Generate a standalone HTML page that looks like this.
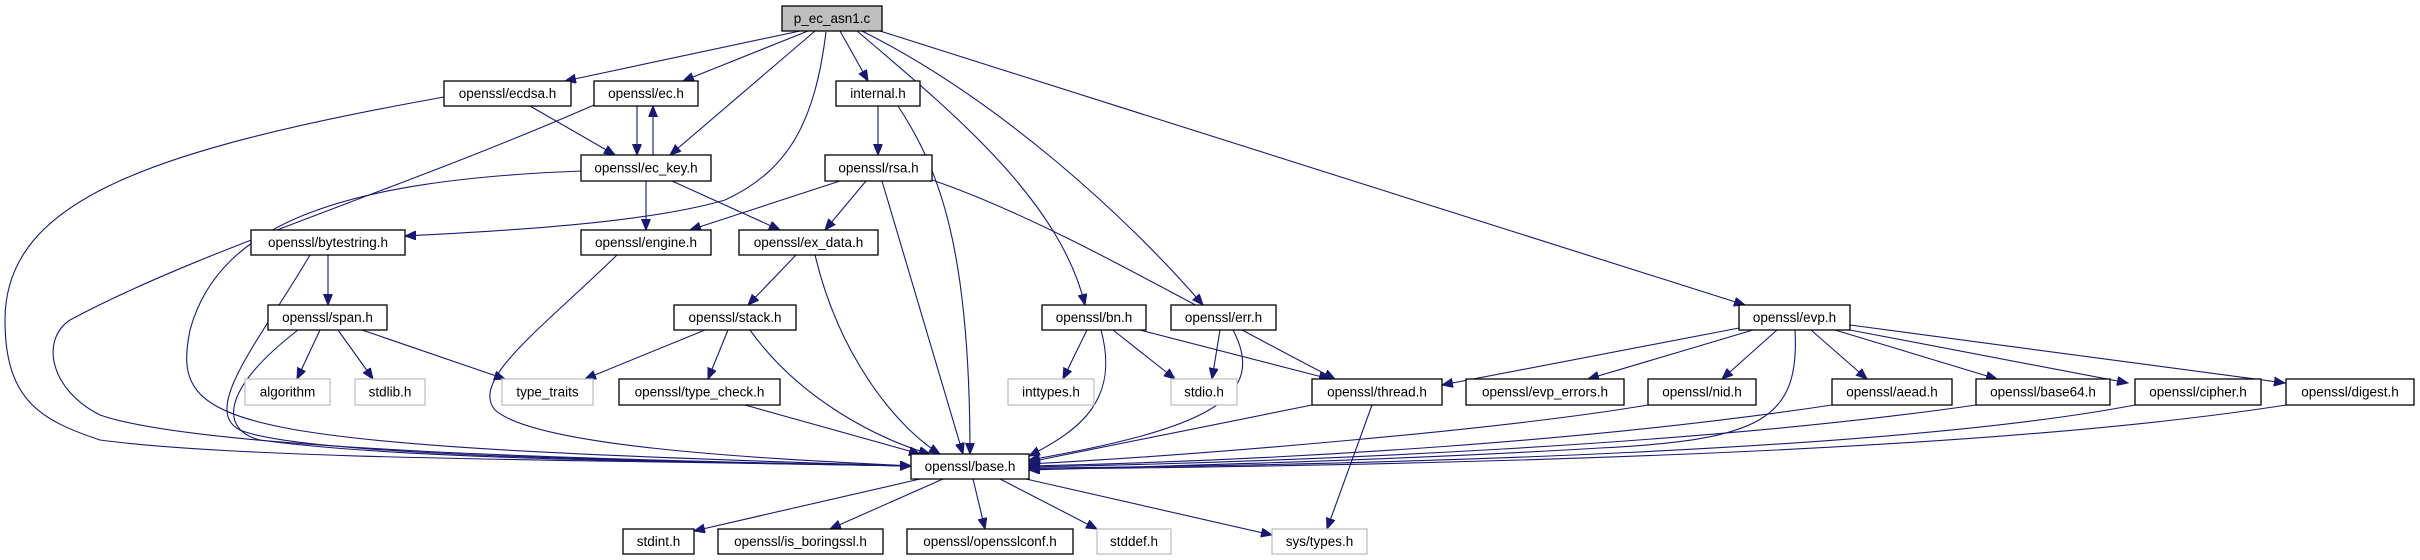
<!DOCTYPE html>
<html><head><meta charset="utf-8"><style>
html,body{margin:0;padding:0;background:#fff;}
svg{display:block}
text{font-family:"Liberation Sans","DejaVu Sans",sans-serif;font-size:13.5px;fill:#000;text-anchor:middle;dominant-baseline:central}
.n{fill:#fff;stroke:#000;stroke-width:1.3}
.g{fill:#fff;stroke:#bfbfbf;stroke-width:1.3}
.e{fill:none;stroke:#191970;stroke-width:1.1}
</style></head><body>
<svg width="2420" height="560" viewBox="0 0 2420 560" xmlns="http://www.w3.org/2000/svg">
<defs><marker id="a" markerUnits="userSpaceOnUse" markerWidth="12" markerHeight="10" refX="11" refY="4.5" orient="auto"><path d="M0,0 L11,4.5 L0,9 Z" fill="#191970" stroke="#191970"/></marker></defs>
<g class="e" marker-end="url(#a)">
<path d="M800,31 L565,81"/>
<path d="M808,31 L683,81"/>
<path d="M815,31 L670,155"/>
<path d="M826,32 C815,120 790,170 725,200 C640,225 480,232 405,236"/>
<path d="M840,31 L868,81"/>
<path d="M857,31 C950,110 1060,200 1085,305"/>
<path d="M862,31 C1000,100 1130,220 1203,305"/>
<path d="M880,31 L1745,305"/>
<path d="M444,97 C150,150 5,200 5,320 C5,400 40,420 100,440 C250,460 600,460 911,466"/>
<path d="M594,105 C400,190 200,250 70,320 C40,340 50,390 100,415 C200,450 600,460 911,466"/>
<path d="M637,106 L637,155"/>
<path d="M653,155 L653,106"/>
<path d="M530,106 L615,155"/>
<path d="M581,171 C350,180 220,220 190,330 C170,430 220,445 911,466"/>
<path d="M646,181 L646,230"/>
<path d="M672,181 L780,230"/>
<path d="M878,106 L878,155"/>
<path d="M898,106 C940,170 970,250 970,454"/>
<path d="M840,181 L690,230"/>
<path d="M866,181 L825,230"/>
<path d="M882,181 L963,454"/>
<path d="M932,180 C1050,220 1200,310 1335,379"/>
<path d="M310,255 C260,340 200,410 240,430 C300,455 600,460 911,466"/>
<path d="M328,255 L328,305"/>
<path d="M617,255 C540,330 470,380 495,410 C540,450 800,460 911,466"/>
<path d="M796,255 L748,305"/>
<path d="M815,255 C840,360 900,430 940,454"/>
<path d="M320,330 L297,379"/>
<path d="M338,330 L373,379"/>
<path d="M362,330 L505,379"/>
<path d="M298,330 C220,390 220,430 260,440 C400,460 700,462 911,466"/>
<path d="M705,330 L585,379"/>
<path d="M728,330 L708,379"/>
<path d="M750,330 C800,400 880,440 930,454"/>
<path d="M745,405 L920,454"/>
<path d="M1087,330 L1063,379"/>
<path d="M1113,330 L1175,379"/>
<path d="M1140,330 L1330,379"/>
<path d="M1101,330 C1120,400 1080,430 1029,456"/>
<path d="M1220,330 L1212,379"/>
<path d="M1233,330 C1270,400 1200,430 1029,460"/>
<path d="M1312,405 L1029,462"/>
<path d="M1372,405 L1327,529"/>
<path d="M1739,328 L1442,385"/>
<path d="M1753,330 L1588,379"/>
<path d="M1777,330 L1722,379"/>
<path d="M1795,330 C1800,420 1760,440 1600,448 C1400,460 1200,465 1029,470"/>
<path d="M1811,330 L1867,379"/>
<path d="M1835,330 L1997,379"/>
<path d="M1850,330 L2128,383"/>
<path d="M1850,325 L2285,383"/>
<path d="M1648,405 C1500,430 1200,455 1029,464"/>
<path d="M1832,405 C1600,440 1300,460 1029,466"/>
<path d="M1976,405 C1700,445 1300,462 1029,467"/>
<path d="M2135,405 C1900,450 1400,465 1029,468"/>
<path d="M2286,405 C2000,450 1500,465 1029,469"/>
<path d="M920,479 L694,531"/>
<path d="M943,479 L830,529"/>
<path d="M973,479 L985,529"/>
<path d="M1000,479 L1097,529"/>
<path d="M1026,479 L1272,535"/>
</g>
<rect x="782" y="6" width="100" height="25" fill="#bfbfbf" stroke="#000" stroke-width="1.3"/><text x="832" y="18.5">p_ec_asn1.c</text>
<rect class="n" x="444" y="81" width="127" height="25"/><text x="507.5" y="93.5">openssl/ecdsa.h</text>
<rect class="n" x="594" y="81" width="104" height="25"/><text x="646" y="93.5">openssl/ec.h</text>
<rect class="n" x="836" y="81" width="84" height="25"/><text x="878" y="93.5">internal.h</text>
<rect class="n" x="581" y="155" width="130" height="26"/><text x="646" y="168">openssl/ec_key.h</text>
<rect class="n" x="825" y="155" width="107" height="26"/><text x="878.5" y="168">openssl/rsa.h</text>
<rect class="n" x="251" y="230" width="154" height="25"/><text x="328" y="242.5">openssl/bytestring.h</text>
<rect class="n" x="581" y="230" width="130" height="25"/><text x="646" y="242.5">openssl/engine.h</text>
<rect class="n" x="739" y="230" width="139" height="25"/><text x="808.5" y="242.5">openssl/ex_data.h</text>
<rect class="n" x="268" y="305" width="119" height="25"/><text x="327.5" y="317.5">openssl/span.h</text>
<rect class="n" x="674" y="305" width="122" height="25"/><text x="735" y="317.5">openssl/stack.h</text>
<rect class="n" x="1042" y="305" width="104" height="25"/><text x="1094" y="317.5">openssl/bn.h</text>
<rect class="n" x="1171" y="305" width="105" height="25"/><text x="1223.5" y="317.5">openssl/err.h</text>
<rect class="n" x="1739" y="305" width="111" height="25"/><text x="1794.5" y="317.5">openssl/evp.h</text>
<rect class="g" x="245" y="379" width="85" height="26"/><text x="287.5" y="392" style="fill:#000">algorithm</text>
<rect class="g" x="355" y="379" width="70" height="26"/><text x="390" y="392">stdlib.h</text>
<rect class="g" x="502" y="379" width="91" height="26"/><text x="547.5" y="392">type_traits</text>
<rect class="n" x="619" y="379" width="161" height="26"/><text x="699.5" y="392">openssl/type_check.h</text>
<rect class="g" x="1008" y="379" width="86" height="26"/><text x="1051" y="392">inttypes.h</text>
<rect class="g" x="1171" y="379" width="66" height="26"/><text x="1204" y="392">stdio.h</text>
<rect class="n" x="1312" y="379" width="130" height="26"/><text x="1377" y="392">openssl/thread.h</text>
<rect class="n" x="1466" y="379" width="158" height="26"/><text x="1545" y="392">openssl/evp_errors.h</text>
<rect class="n" x="1648" y="379" width="108" height="26"/><text x="1702" y="392">openssl/nid.h</text>
<rect class="n" x="1832" y="379" width="120" height="26"/><text x="1892" y="392">openssl/aead.h</text>
<rect class="n" x="1976" y="379" width="134" height="26"/><text x="2043" y="392">openssl/base64.h</text>
<rect class="n" x="2135" y="379" width="126" height="26"/><text x="2198" y="392">openssl/cipher.h</text>
<rect class="n" x="2286" y="379" width="128" height="26"/><text x="2350" y="392">openssl/digest.h</text>
<rect class="n" x="911" y="454" width="118" height="25"/><text x="970" y="466.5">openssl/base.h</text>
<rect class="n" x="623" y="529" width="71" height="25"/><text x="658.5" y="541.5">stdint.h</text>
<rect class="n" x="718" y="529" width="165" height="25"/><text x="800.5" y="541.5">openssl/is_boringssl.h</text>
<rect class="n" x="907" y="529" width="166" height="25"/><text x="990" y="541.5">openssl/opensslconf.h</text>
<rect class="g" x="1097" y="529" width="74" height="25"/><text x="1134" y="541.5">stddef.h</text>
<rect class="g" x="1272" y="529" width="95" height="25"/><text x="1319.5" y="541.5">sys/types.h</text>
</svg>
</body></html>
